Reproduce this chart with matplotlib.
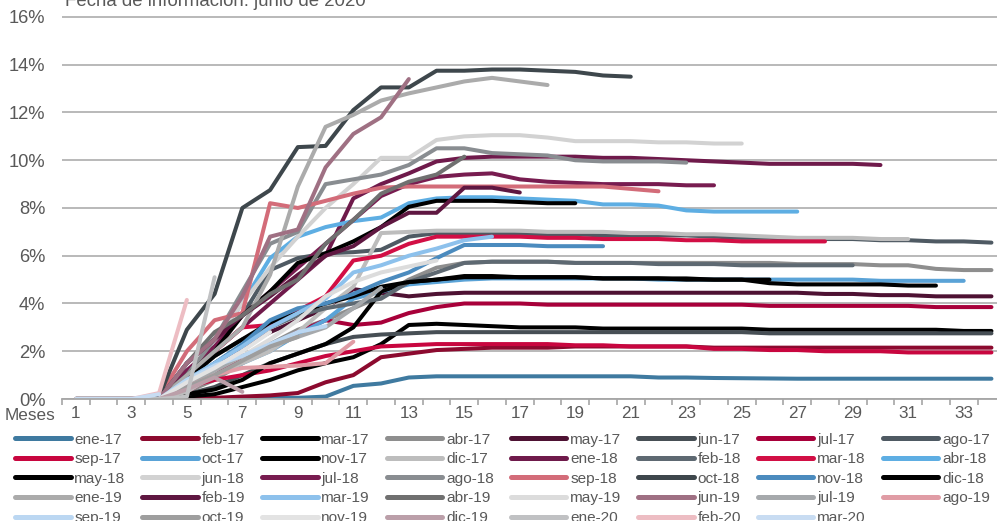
import matplotlib
matplotlib.use('Agg')
import matplotlib.pyplot as plt
from matplotlib.ticker import FixedLocator

plt.rcParams['font.family'] = ['Liberation Sans', 'DejaVu Sans']

# ---------------- data ----------------
months = list(range(1, 35))
xtick_months = [1, 3, 5, 7, 9, 11, 13, 15, 17, 19, 21, 23, 25, 27, 29, 31, 33]
yticks = [0, 2, 4, 6, 8, 10, 12, 14, 16]

names = ['ene-17', 'feb-17', 'mar-17', 'abr-17', 'may-17', 'jun-17', 'jul-17', 'ago-17',
         'sep-17', 'oct-17', 'nov-17', 'dic-17', 'ene-18', 'feb-18', 'mar-18', 'abr-18',
         'may-18', 'jun-18', 'jul-18', 'ago-18', 'sep-18', 'oct-18', 'nov-18', 'dic-18',
         'ene-19', 'feb-19', 'mar-19', 'abr-19', 'may-19', 'jun-19', 'jul-19', 'ago-19',
         'sep-19', 'oct-19', 'nov-19', 'dic-19', 'ene-20', 'feb-20', 'mar-20']

colors = ['#3F7AA0', '#8C0A2F', '#000000', '#8E8E8E', '#4E1233', '#474F55', '#A8003A', '#4F5A63',
          '#C8063F', '#5AA3D7', '#000000', '#BDBDBD', '#6F1A4B', '#5E6972', '#D20F45', '#5EAEE3',
          '#000000', '#D2D2D2', '#781C50', '#898D91', '#D36C79', '#3E474C', '#4B8BBE', '#000000',
          '#ABABAB', '#5F1741', '#8DC1EC', '#707070', '#DCDCDC', '#9F7083', '#A6A9AC', '#E09CA5',
          '#BBD7F2', '#9E9E9E', '#E3E3E3', '#BB9FA9', '#C0C1C3', '#EDBDC3', '#C8DCF2']

ene17 = [0, 0, 0, 0, 0, 0, 0.02, 0.05, 0.05, 0.1,
         0.55, 0.65, 0.9, 0.95, 0.95, 0.95, 0.95, 0.95, 0.95, 0.95,
         0.95, 0.9, 0.9, 0.88, 0.87, 0.86, 0.85, 0.85, 0.85, 0.85,
         0.85, 0.85, 0.85, 0.85]
feb17 = [0, 0, 0, 0, 0, 0.05, 0.1, 0.15, 0.25, 0.7,
         1.0, 1.75, 1.9, 2.05, 2.1, 2.15, 2.15, 2.15, 2.2, 2.2,
         2.2, 2.2, 2.2, 2.15, 2.15, 2.15, 2.15, 2.15, 2.15, 2.15,
         2.15, 2.15, 2.15, 2.15]
mar17 = [0, 0, 0, 0, 0.1, 0.2, 0.5, 0.8, 1.2, 1.5,
         1.75, 2.3, 3.1, 3.15, 3.1, 3.05, 3.0, 3.0, 3.0, 2.95,
         2.95, 2.95, 2.95, 2.95, 2.95, 2.9, 2.9, 2.9, 2.9, 2.9,
         2.9, 2.9, 2.85, 2.85]
abr17 = [0, 0, 0, 0, 0.3, 0.8, 1.5, 2.3, 2.9, 3.3,
         3.8, 4.3, 5.0, 5.5, 5.7, 5.75, 5.75, 5.75, 5.7, 5.7,
         5.7, 5.7, 5.7, 5.7, 5.7, 5.7, 5.65, 5.65, 5.65, 5.6,
         5.6, 5.45, 5.4, 5.4]
may17 = [0, 0, 0, 0, 0.5, 1.5, 2.2, 2.8, 3.3, 3.8,
         4.6, 4.45, 4.3, 4.4, 4.45, 4.45, 4.45, 4.45, 4.45, 4.45,
         4.45, 4.45, 4.45, 4.45, 4.45, 4.45, 4.45, 4.4, 4.4, 4.35,
         4.35, 4.3, 4.3, 4.3]
jun17 = [0, 0, 0, 0, 0.2, 0.5, 1.0, 1.5, 1.9, 2.3,
         2.6, 2.7, 2.75, 2.8, 2.8, 2.8, 2.8, 2.8, 2.8, 2.8,
         2.8, 2.8, 2.8, 2.8, 2.8, 2.75, 2.75, 2.75, 2.75, 2.75,
         2.75, 2.75, 2.75, 2.75]
jul17 = [0, 0, 0, 0, 0.3, 1.0, 1.8, 2.2, 2.8, 3.3,
         3.1, 3.2, 3.6, 3.85, 4.0, 4.0, 4.0, 3.95, 3.95, 3.95,
         3.95, 3.95, 3.95, 3.95, 3.95, 3.9, 3.9, 3.9, 3.9, 3.9,
         3.9, 3.85, 3.85, 3.85]
ago17 = [0, 0, 0, 0, 1.5, 2.5, 3.5, 5.4, 5.9, 6.1,
         6.15, 6.25, 6.8, 6.95, 6.95, 6.95, 6.9, 6.9, 6.9, 6.85,
         6.85, 6.85, 6.85, 6.8, 6.75, 6.75, 6.7, 6.7, 6.7, 6.65,
         6.65, 6.6, 6.6, 6.55]
sep17 = [0, 0, 0, 0, 0.5, 0.8, 1.0, 1.2, 1.5, 1.8,
         2.0, 2.2, 2.25, 2.3, 2.3, 2.3, 2.3, 2.3, 2.25, 2.25,
         2.2, 2.2, 2.2, 2.1, 2.1, 2.05, 2.05, 2.0, 2.0, 2.0,
         1.95, 1.95, 1.95, 1.95]
oct17 = [0, 0, 0, 0, 0.5, 1.0, 1.5, 2.0, 2.7, 3.3,
         4.2, 4.5, 4.8, 4.9, 5.0, 5.05, 5.05, 5.05, 5.05, 5.05,
         5.05, 5.0, 5.0, 5.0, 5.0, 5.0, 5.0, 5.0, 5.0, 4.95,
         4.95, 4.95, 4.95]
nov17 = [0, 0, 0, 0, 0.2, 0.4, 0.8, 1.5, 1.9, 2.3,
         3.0, 4.5, 4.9, 5.0, 5.1, 5.1, 5.1, 5.1, 5.1, 5.05,
         5.05, 5.05, 5.0, 5.0, 5.0, 4.85, 4.8, 4.8, 4.8, 4.8,
         4.75, 4.75]
dic17 = [0, 0, 0, 0, 0.3, 1.0, 1.5, 2.0, 2.8, 3.8,
         4.7, 6.95, 7.0, 7.05, 7.05, 7.05, 7.05, 7.0, 7.0, 7.0,
         6.95, 6.95, 6.9, 6.9, 6.85, 6.8, 6.75, 6.75, 6.75, 6.7,
         6.7]
ene18 = [0, 0, 0, 0, 1.0, 2.0, 3.0, 4.0, 5.0, 6.0,
         8.4, 9.0, 9.45, 9.95, 10.1, 10.15, 10.15, 10.15, 10.15, 10.1,
         10.1, 10.05, 10.0, 9.95, 9.9, 9.85, 9.85, 9.85, 9.85, 9.8]
feb18 = [0, 0, 0, 0, 1.0, 1.8, 2.5, 3.0, 3.5, 3.8,
         4.0, 4.2, 4.9, 5.3, 5.7, 5.75, 5.75, 5.75, 5.7, 5.7,
         5.7, 5.65, 5.65, 5.65, 5.6, 5.6, 5.6, 5.6, 5.6]
mar18 = [0, 0, 0, 0, 1.0, 2.0, 3.0, 3.1, 3.7, 4.3,
         5.8, 6.0, 6.5, 6.8, 6.8, 6.8, 6.8, 6.75, 6.75, 6.7,
         6.7, 6.7, 6.65, 6.65, 6.6, 6.6, 6.6, 6.6]
abr18 = [0, 0, 0, 0, 1.5, 2.5, 4.0, 5.9, 6.8, 7.2,
         7.45, 7.6, 8.2, 8.4, 8.45, 8.45, 8.4, 8.35, 8.3, 8.15,
         8.15, 8.1, 7.9, 7.85, 7.85, 7.85, 7.85]
may18 = [0, 0, 0, 0, 0.8, 1.8, 2.5, 3.2, 3.6, 4.0,
         4.3, 4.7, 4.9, 5.0, 5.15, 5.15, 5.1, 5.1, 5.1, 5.05,
         5.05, 5.05, 5.05, 5.0, 5.0, 5.0]
jun18 = [0, 0, 0, 0, 1.0, 2.5, 4.0, 5.5, 6.8, 8.0,
         9.0, 10.1, 10.1, 10.85, 11.0, 11.05, 11.05, 10.95, 10.8, 10.8,
         10.8, 10.75, 10.75, 10.7, 10.7]
jul18 = [0, 0, 0, 0, 1.2, 2.2, 3.5, 4.5, 5.5, 6.5,
         7.5, 8.5, 9.0, 9.3, 9.4, 9.45, 9.2, 9.1, 9.05, 9.0,
         9.0, 9.0, 8.95, 8.95]
ago18 = [0, 0, 0, 0, 1.0, 2.5, 4.5, 6.5, 7.0, 9.0,
         9.2, 9.4, 9.8, 10.5, 10.5, 10.3, 10.25, 10.2, 10.0, 9.95,
         9.95, 9.95, 9.9]
sep18 = [0, 0, 0, 0.1, 2.0, 3.3, 3.6, 8.2, 8.0, 8.3,
         8.6, 8.85, 8.9, 8.9, 8.9, 8.9, 8.9, 8.9, 8.9, 8.9,
         8.8, 8.7]
oct18 = [0, 0, 0, 0.1, 2.9, 4.4, 8.0, 8.75, 10.55, 10.6,
         12.1, 13.05, 13.05, 13.75, 13.75, 13.8, 13.8, 13.75, 13.7, 13.55,
         13.5]
nov18 = [0, 0, 0, 0, 0.8, 1.5, 2.3, 3.3, 3.8, 4.0,
         4.4, 4.9, 5.3, 5.9, 6.45, 6.45, 6.45, 6.4, 6.4, 6.4]
dic18 = [0, 0, 0, 0, 1.0, 2.0, 3.5, 4.5, 5.7, 6.1,
         6.6, 7.2, 8.05, 8.3, 8.3, 8.3, 8.25, 8.2, 8.2]
ene19 = [0, 0, 0, 0, 1.0, 2.0, 3.0, 5.2, 8.9, 11.4,
         11.9, 12.5, 12.8, 13.05, 13.3, 13.45, 13.3, 13.15]
feb19 = [0, 0, 0, 0, 1.5, 2.5, 3.5, 4.3, 5.2, 6.0,
         6.4, 7.2, 7.8, 7.8, 8.85, 8.85, 8.65]
mar19 = [0, 0, 0, 0, 0.8, 1.5, 2.2, 3.0, 3.6, 4.2,
         5.3, 5.6, 6.0, 6.3, 6.65, 6.8]
abr19 = [0, 0, 0, 0, 1.5, 2.8, 3.5, 4.4, 5.0, 6.5,
         7.5, 8.6, 9.1, 9.4, 10.15]
may19 = [0, 0, 0, 0, 0.5, 1.2, 1.8, 2.5, 3.3, 4.3,
         4.9, 5.3, 5.55, 5.8]
jun19 = [0, 0, 0, 0, 1.5, 2.5, 4.3, 6.8, 7.1, 9.7,
         11.1, 11.8, 13.4]
jul19 = [0, 0, 0, 0, 0.5, 1.2, 1.8, 2.2, 2.6, 3.0,
         3.8, 4.65]
ago19 = [0, 0, 0, 0, 0.5, 1.0, 1.3, 1.35, 1.4, 1.5, 2.4]
sep19 = [0, 0, 0, 0, 0.8, 1.4, 1.8, 2.3, 2.8, 3.05]
oct19 = [0, 0, 0, 0, 0.5, 1.0, 1.6, 2.2, 2.6]
nov19 = [0, 0, 0, 0, 0.7, 1.3, 2.0, 2.8]
dic19 = [0, 0, 0, 0, 0.4, 0.9, 0.3]
ene20 = [0, 0, 0, 0, 0.1, 5.1]
feb20 = [0, 0, 0, 0.25, 4.15]
mar20 = [0, 0, 0, 0.2]

series = [ene17, feb17, mar17, abr17, may17, jun17, jul17, ago17,
          sep17, oct17, nov17, dic17, ene18, feb18, mar18, abr18,
          may18, jun18, jul18, ago18, sep18, oct18, nov18, dic18,
          ene19, feb19, mar19, abr19, may19, jun19, jul19, ago19,
          sep19, oct19, nov19, dic19, ene20, feb20, mar20]

# ---------------- figure ----------------
W, H = 997, 521
TXT = '#595959'
GRID = '#A6A6A6'
fig = plt.figure(figsize=(W / 100, H / 100), dpi=100)
ax = fig.add_axes([62 / W, 1 - 399 / H, (W - 62) / W, (399 - 14.6) / H])

handles = []
for name, vals, c in zip(names, series, colors):
    ln, = ax.plot(months[:len(vals)], vals, color=c, lw=2.9, label=name,
                  solid_capstyle='round', solid_joinstyle='round')
    handles.append(ln)

ax.set_xlim(0.5, 34.2)
ax.set_ylim(0, 16.1)
ax.set_yticks(yticks)
ax.set_yticklabels([f'{v}%' for v in yticks])
ax.set_xticks(xtick_months)
ax.set_xticklabels([str(m) for m in xtick_months])
ax.xaxis.set_minor_locator(FixedLocator([k + 0.5 for k in range(34)]))

ax.yaxis.grid(True, color=GRID, lw=1.1)
ax.set_axisbelow(True)
for s in ['top', 'right', 'left']:
    ax.spines[s].set_visible(False)
ax.spines['bottom'].set_color(GRID)
ax.spines['bottom'].set_linewidth(1.3)

ax.tick_params(axis='y', length=0, pad=12, labelsize=13.2, labelcolor=TXT)
ax.tick_params(axis='x', which='major', length=0, pad=5, labelsize=12.3, labelcolor=TXT)
ax.tick_params(axis='x', which='minor', length=4, width=1.2, color=GRID, direction='out')

fig.text(5 / W, 1 - 416 / H, 'Meses', fontsize=12.3, color=TXT, ha='left', va='center')
fig.text(65 / W, 1 - 5.5 / H, 'Fecha de información: junio de 2020', fontsize=13.4,
         color=TXT, ha='left', va='baseline')

# legend: row-major order (8 columns), matplotlib fills column by column
ncol, nrow = 8, 5
order = [r * ncol + c for c in range(ncol) for r in range(nrow) if r * ncol + c < len(names)]
leg = fig.legend([handles[i] for i in order], [names[i] for i in order],
                 loc='upper left', bbox_to_anchor=(15 / W, 1 - 438 / H, 975 / W, 0.01),
                 mode='expand', ncol=ncol, frameon=False, fontsize=11.1,
                 handlelength=3.6, handletextpad=0.25, labelspacing=0.36,
                 borderpad=0, borderaxespad=0, columnspacing=0.5)
for t in leg.get_texts():
    t.set_color(TXT)
for h in leg.get_lines():
    h.set_linewidth(3.6)
    h.set_solid_capstyle('round')

fig.savefig('out.png', dpi=100)
